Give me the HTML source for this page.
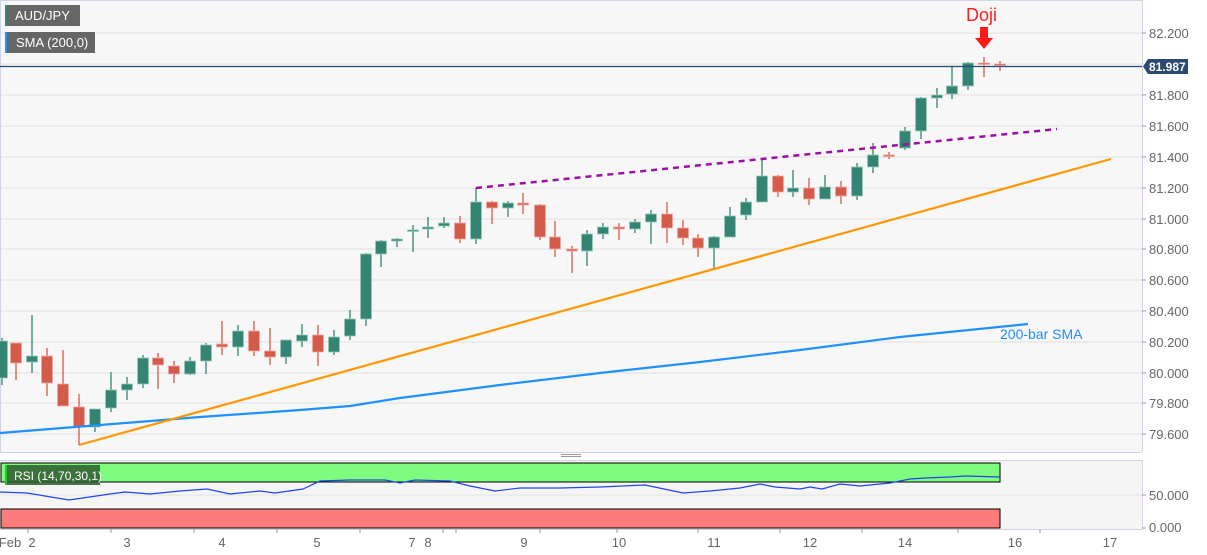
<!DOCTYPE html>
<html><head><meta charset="utf-8"><style>
html,body{margin:0;padding:0;background:#fff;}
svg{display:block;font-family:"Liberation Sans",sans-serif;}
</style></head><body>
<svg id="s" width="1207" height="555" xmlns="http://www.w3.org/2000/svg">
<rect x="0" y="0" width="1207" height="555" fill="#ffffff"/>
<rect x="0" y="0" width="1142" height="452" fill="#f7f7f7"/>
<rect x="0" y="460" width="1142" height="69" fill="#f5f5f5"/>
<g stroke="#e2e2e2" stroke-width="1">
<line x1="0" y1="33" x2="1142" y2="33"/><line x1="0" y1="64" x2="1142" y2="64"/><line x1="0" y1="95" x2="1142" y2="95"/><line x1="0" y1="126" x2="1142" y2="126"/><line x1="0" y1="157" x2="1142" y2="157"/><line x1="0" y1="188" x2="1142" y2="188"/><line x1="0" y1="219" x2="1142" y2="219"/><line x1="0" y1="249" x2="1142" y2="249"/><line x1="0" y1="280" x2="1142" y2="280"/><line x1="0" y1="311" x2="1142" y2="311"/><line x1="0" y1="342" x2="1142" y2="342"/><line x1="0" y1="373" x2="1142" y2="373"/><line x1="0" y1="403" x2="1142" y2="403"/><line x1="0" y1="434" x2="1142" y2="434"/>
<line x1="0" y1="495" x2="1142" y2="495"/>
</g>
<g stroke="#cfd5e5" stroke-width="1" fill="none">
<line x1="0.5" y1="0" x2="0.5" y2="452"/><line x1="0" y1="0.5" x2="1142" y2="0.5"/>
<line x1="1142.5" y1="0" x2="1142.5" y2="452"/><line x1="0" y1="452.5" x2="1142" y2="452.5"/>
<line x1="0" y1="460.5" x2="1142" y2="460.5"/><line x1="1142.5" y1="460" x2="1142.5" y2="530"/>
<line x1="0" y1="529.5" x2="1142" y2="529.5"/>
</g>
<g stroke="#999" stroke-width="1"><line x1="561" y1="454.5" x2="581" y2="454.5"/><line x1="561" y1="456.5" x2="581" y2="456.5"/></g>
<g id="cand"></g>
<polyline points="0,433 100,425 200,417 300,410 350,406 400,398 500,385 600,373 700,362 800,350 900,337 1028,324" fill="none" stroke="#1e90ff" stroke-width="2.2"/>
<line x1="79" y1="445" x2="1111" y2="159" stroke="#ff9800" stroke-width="2.2"/>
<line x1="476" y1="188" x2="1057" y2="129" stroke="#9c0fa6" stroke-width="2.5" stroke-dasharray="6,5"/>
<line x1="79" y1="428" x2="79" y2="445" stroke="#d9574a" stroke-width="1.3"/>
<line x1="0" y1="66.5" x2="1142" y2="66.5" stroke="#2b4a72" stroke-width="1.3"/>
<text x="1000" y="339" font-size="14" fill="#1e90ff">200-bar SMA</text>
<text x="966" y="21" font-size="18" fill="#ff2020">Doji</text>
<polygon points="980,27 988,27 988,38 993,38 984,49 975,38 980,38" fill="#ff1a1a"/>
<rect x="5" y="5" width="75" height="21" fill="#666"/><rect x="5" y="5" width="2" height="21" fill="#2e8b6f"/>
<text x="15" y="20" font-size="13" fill="#fff">AUD/JPY</text>
<rect x="5" y="32" width="90" height="21" fill="#666"/><rect x="5" y="32" width="2" height="21" fill="#1e90ff"/>
<text x="16" y="47" font-size="13" fill="#fff">SMA (200,0)</text>
<rect x="1" y="463" width="999" height="19" fill="#7efc7e" stroke="#000" stroke-width="1"/>
<rect x="1" y="509" width="999" height="19" fill="#fc7b7b" stroke="#000" stroke-width="1"/>
<polyline points="0,492 27,493 69,500 110,494 125,492 150,494 180,491 207,489 230,494 260,491 275,493 303,489 320,481 350,480 385,480 400,483 415,480 450,481 470,486 495,491 520,488 560,488 600,487 645,485 683,493 710,491 740,488 760,484 775,487 800,489 810,487 822,489 840,484 860,486 890,483 910,479 925,478 950,477 965,476 1000,477" fill="none" stroke="#2244ee" stroke-width="1.2"/>
<rect x="5" y="465" width="95" height="20" fill="#2e5a2e" opacity="0.85"/><rect x="5" y="465" width="2" height="20" fill="#22cc22"/>
<text x="14" y="480" font-size="12" fill="#fff">RSI (14,70,30,1)</text>
<g stroke="#999"><line x1="1142" y1="33" x2="1146" y2="33"/><line x1="1142" y1="95" x2="1146" y2="95"/><line x1="1142" y1="126" x2="1146" y2="126"/><line x1="1142" y1="157" x2="1146" y2="157"/><line x1="1142" y1="188" x2="1146" y2="188"/><line x1="1142" y1="219" x2="1146" y2="219"/><line x1="1142" y1="249" x2="1146" y2="249"/><line x1="1142" y1="280" x2="1146" y2="280"/><line x1="1142" y1="311" x2="1146" y2="311"/><line x1="1142" y1="342" x2="1146" y2="342"/><line x1="1142" y1="373" x2="1146" y2="373"/><line x1="1142" y1="403" x2="1146" y2="403"/><line x1="1142" y1="434" x2="1146" y2="434"/><line x1="1142" y1="495" x2="1146" y2="495"/><line x1="1142" y1="528" x2="1146" y2="528"/></g>
<g font-size="13" fill="#666">
<text x="1149" y="38">82.200</text><text x="1149" y="100">81.800</text><text x="1149" y="131">81.600</text><text x="1149" y="162">81.400</text><text x="1149" y="193">81.200</text><text x="1149" y="224">81.000</text><text x="1149" y="254">80.800</text><text x="1149" y="285">80.600</text><text x="1149" y="316">80.400</text><text x="1149" y="347">80.200</text><text x="1149" y="378">80.000</text><text x="1149" y="408">79.800</text><text x="1149" y="439">79.600</text>
<text x="1149" y="500">50.000</text><text x="1149" y="532">0.000</text>
</g>
<polygon points="1143,66.5 1148,59 1188,59 1188,74 1148,74" fill="#2b4a72"/>
<text x="1149" y="71" font-size="12" font-weight="bold" fill="#fff">81.987</text>
<g stroke="#999"><line x1="28" y1="529" x2="28" y2="533"/><line x1="111" y1="529" x2="111" y2="533"/><line x1="194" y1="529" x2="194" y2="533"/><line x1="277" y1="529" x2="277" y2="533"/><line x1="360" y1="529" x2="360" y2="533"/><line x1="443" y1="529" x2="443" y2="533"/><line x1="456" y1="529" x2="456" y2="533"/><line x1="540" y1="529" x2="540" y2="533"/><line x1="617" y1="529" x2="617" y2="533"/><line x1="698" y1="529" x2="698" y2="533"/><line x1="780" y1="529" x2="780" y2="533"/><line x1="862" y1="529" x2="862" y2="533"/><line x1="958" y1="529" x2="958" y2="533"/><line x1="1040" y1="529" x2="1040" y2="533"/></g>
<g font-size="13" fill="#666" text-anchor="middle">
<text x="10" y="547">Feb</text><text x="32" y="547">2</text><text x="127" y="547">3</text><text x="222" y="547">4</text><text x="317" y="547">5</text><text x="412" y="547">7</text><text x="428" y="547">8</text><text x="524" y="547">9</text><text x="619" y="547">10</text><text x="714" y="547">11</text><text x="810" y="547">12</text><text x="905" y="547">14</text><text x="1015" y="547">16</text><text x="1110" y="547">17</text>
</g>
</svg>
<script>
var c=[
[2,'g',341,378,338,385],[16,'r',343,363,343,380],[32,'g',356,362,315,373],[47,'r',356,383,348,396],[63,'r',384,406,350,406],[79,'r',407,427,394,428],
[95,'g',409,427,409,432],[111,'g',390,408,372,412],[127,'g',384,390,377,400],[143,'g',358,384,355,388],[158,'r',358,365,353,389],[174,'r',366,374,361,383],
[190,'g',361,374,357,375],[206,'g',345,361,343,374],[222,'r',344,347,321,355],[238,'g',331,347,325,356],[254,'r',331,351,321,356],[270,'r',351,357,328,365],
[286,'g',340,357,340,364],[302,'g',335,341,324,347],[318,'r',335,352,325,366],[334,'g',337,352,330,355],[350,'g',319,336,310,340],[366,'g',254,319,253,326],
[381,'g',241,254,240,267],[397,'g',239,241,238,247],[413,'g',230,231,225,252],[428,'g',227,229,217,238],[444,'g',223,226,217,228],[460,'r',223,239,216,243],
[476,'g',202,239,188,244],[492,'r',202,208,201,224],[508,'g',203,208,201,217],[523,'r',203,205,193,214],[540,'r',205,237,204,240],[555,'r',237,249,221,257],
[572,'r',249,251,246,273],[587,'g',234,251,230,266],[603,'g',227,234,223,239],[619,'r',227,229,223,240],[635,'g',222,229,219,233],[651,'g',214,222,210,244],
[667,'r',214,228,202,243],[683,'r',228,238,220,245],[698,'r',238,248,234,257],[714,'g',237,248,236,268],[730,'g',216,237,207,237],[746,'g',202,215,198,220],
[762,'g',176,202,160,202],[778,'r',176,192,175,197],[793,'g',188,192,170,197],[809,'r',188,199,178,205],[825,'g',187,199,175,199],[841,'r',187,196,181,204],
[857,'g',167,196,163,200],[873,'g',155,167,143,173],[889,'r',155,156,152,159],[905,'g',131,148,127,150],[921,'g',98,131,97,139],[937,'g',95,98,88,108],
[952,'g',86,94,67,99],[968,'g',63,86,62,90],[984,'r',63,64,57,77],[1000,'r',64,65,61,71]];
var g=document.getElementById('cand'),h='';
c.forEach(function(d){var col=d[1]=='g'?'#338472':'#d45a4a';
h+='<line x1="'+d[0]+'" y1="'+d[4]+'" x2="'+d[0]+'" y2="'+d[5]+'" stroke="'+col+'" stroke-width="1.3"/>';
var hh=Math.max(1.5,d[3]-d[2]);
h+='<rect x="'+(d[0]-5.5)+'" y="'+d[2]+'" width="11" height="'+hh+'" fill="'+col+'" stroke="'+(d[1]=='g'?'#9cc8bc':'#f0a9a0')+'" stroke-width="0.8"/>';});
g.innerHTML=h;
</script>
</body></html>
